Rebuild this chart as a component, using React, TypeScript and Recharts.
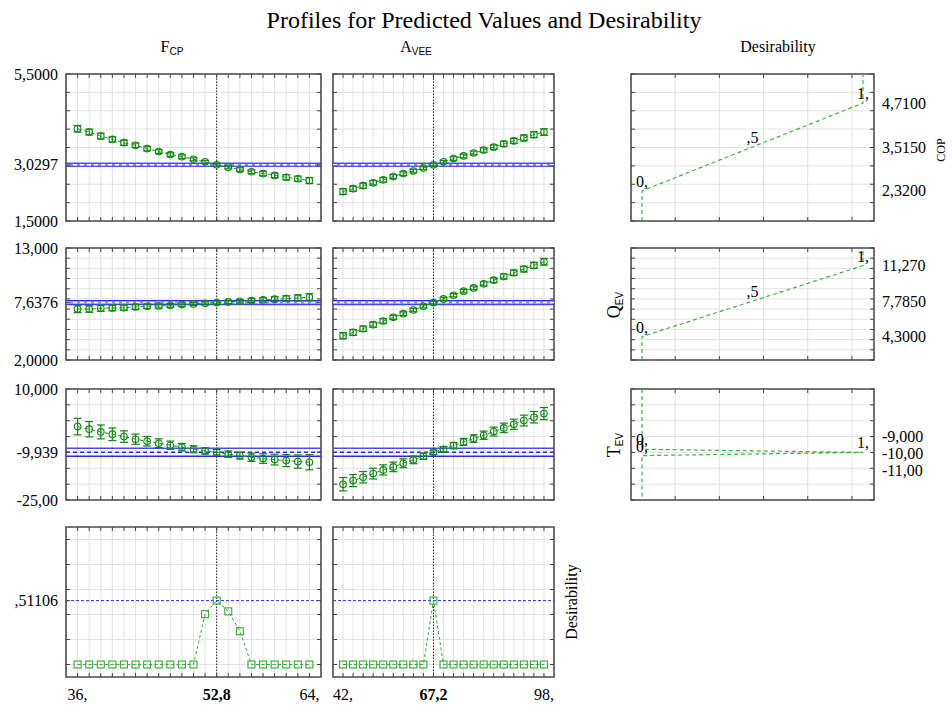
import React from 'react';
import {
  ComposedChart,
  Line,
  XAxis,
  YAxis,
  CartesianGrid,
  ReferenceLine,
  ReferenceArea,
  ErrorBar,
  LabelList,
} from 'recharts';

const SERIF = '"Liberation Serif", "Times New Roman", serif';
const SANS = '"Liberation Sans", Arial, sans-serif';

// ---------- categories ----------
const fcpX = [36, 37.4, 38.8, 40.2, 41.6, 43, 44.4, 45.8, 47.2, 48.6, 50, 51.4, 52.8, 54.2, 55.6, 57, 58.4, 59.8, 61.2, 62.6, 64];
const aveeX = [42, 44.8, 47.6, 50.4, 53.2, 56, 58.8, 61.6, 64.4, 67.2, 70, 72.8, 75.6, 78.4, 81.2, 84, 86.8, 89.6, 92.4, 95.2, 98];
const fcpCurrent = 52.8;
const aveeCurrent = 67.2;

// ---------- predicted values ----------
const copByFcp = [4.01, 3.92, 3.81, 3.72, 3.63, 3.56, 3.47, 3.39, 3.31, 3.25, 3.18, 3.11, 3.0297, 2.96, 2.9, 2.84, 2.79, 2.74, 2.69, 2.65, 2.6];
const copErrFcp = [0.09, 0.08, 0.08, 0.07, 0.07, 0.06, 0.06, 0.05, 0.05, 0.05, 0.04, 0.04, 0.04, 0.04, 0.05, 0.05, 0.06, 0.06, 0.07, 0.07, 0.08];
const copByAvee = [2.3, 2.38, 2.46, 2.54, 2.62, 2.71, 2.79, 2.86, 2.94, 3.0297, 3.11, 3.2, 3.27, 3.35, 3.43, 3.51, 3.6, 3.68, 3.76, 3.85, 3.92];
const copErrAvee = [0.08, 0.07, 0.07, 0.06, 0.06, 0.05, 0.05, 0.05, 0.04, 0.04, 0.04, 0.05, 0.05, 0.05, 0.06, 0.06, 0.07, 0.07, 0.08, 0.08, 0.09];

const qevByFcp = [7.01, 7.01, 7.08, 7.11, 7.14, 7.21, 7.28, 7.31, 7.37, 7.44, 7.51, 7.57, 7.6376, 7.7, 7.77, 7.84, 7.9, 7.97, 8.03, 8.1, 8.16];
const qevErrFcp = [0.36, 0.33, 0.3, 0.28, 0.26, 0.24, 0.22, 0.2, 0.18, 0.17, 0.16, 0.15, 0.15, 0.16, 0.17, 0.19, 0.21, 0.24, 0.27, 0.31, 0.36];
const qevByAvee = [4.38, 4.71, 5.07, 5.47, 5.83, 6.19, 6.55, 6.91, 7.28, 7.6376, 8.0, 8.36, 8.76, 9.08, 9.48, 9.84, 10.2, 10.57, 10.93, 11.29, 11.65];
const qevErrAvee = [0.3, 0.28, 0.26, 0.24, 0.22, 0.2, 0.18, 0.17, 0.16, 0.15, 0.15, 0.16, 0.17, 0.18, 0.2, 0.22, 0.24, 0.26, 0.28, 0.3, 0.33];

const tevByFcp = [-1.84, -2.68, -3.53, -4.26, -5.0, -5.84, -6.47, -7.1, -7.73, -8.36, -8.99, -9.52, -9.939, -10.57, -10.99, -11.52, -11.94, -12.25, -12.57, -12.88, -13.09];
const tevErrFcp = [2.6, 2.4, 2.2, 2.0, 1.8, 1.6, 1.5, 1.4, 1.3, 1.2, 1.1, 1.0, 0.9, 1.0, 1.1, 1.3, 1.5, 1.7, 1.9, 2.1, 2.4];
const tevByAvee = [-20.03, -18.88, -17.83, -16.67, -15.51, -14.57, -13.41, -12.36, -11.2, -9.939, -8.99, -7.84, -6.68, -5.63, -4.58, -3.42, -2.26, -1.11, 0.05, 1.1, 2.26];
const tevErrAvee = [2.1, 1.9, 1.8, 1.7, 1.6, 1.5, 1.4, 1.2, 1.0, 0.7, 0.8, 1.0, 1.1, 1.2, 1.3, 1.4, 1.5, 1.6, 1.7, 1.8, 1.9];

const desByFcp = [0, 0, 0, 0, 0, 0, 0, 0, 0, 0, 0, 0.403, 0.51106, 0.425, 0.266, 0, 0, 0, 0, 0, 0];
const desByAvee = [0, 0, 0, 0, 0, 0, 0, 0, 0, 0.51106, 0, 0, 0, 0, 0, 0, 0, 0, 0, 0, 0];

// current predicted values and confidence bands
const copCurrent = 3.0297;
const copBand = [2.99, 3.075];
const qevCurrent = 7.6376;
const qevBand = [7.43, 7.84];
const tevCurrent = -9.939;
const tevBand = [-11.2, -8.68];
const desCurrent = 0.51106;

// ---------- desirability functions ----------
const copDesD = [0, 0.5, 1];
const copDesV = [2.32, 3.515, 4.71];
const copDesLab = ['0,', ',5', '1,'];
const copDesEnds = [1.5, 5.5];
const qevDesD = [0, 0.5, 1];
const qevDesV = [4.3, 7.785, 11.27];
const qevDesLab = ['0,', ',5', '1,'];
const qevDesEnds = [2, 13];
const tevDesD = [0, 1, 0];
const tevDesV = [-9, -10, -11];
const tevDesLab = ['0,', '1,', '0,'];
const tevDesEnds = [10, -25];

// ---------- tick values / labels ----------
const fcpGrid = fcpX;
const aveeGrid = aveeX;
const desXGrid = [0.15, 0.35, 0.55, 0.75, 0.95];
const copGrid = [1.5, 2, 2.5, 3, 3.5, 4, 4.5, 5, 5.5];
const qevGrid = [2, 3, 4, 5, 6, 7, 8, 9, 10, 11, 12, 13];
const tevGrid = [-25, -20, -15, -10, -5, 0, 5, 10];
const desGrid = [0, 0.2, 0.4, 0.6, 0.8, 1.0];

type Lab = { v: number; t: string; bold?: boolean; dy?: number };
const fcpLabels: Lab[] = [{ v: 36, t: '36,' }, { v: 52.8, t: '52,8', bold: true }, { v: 64, t: '64,' }];
const aveeLabels: Lab[] = [{ v: 42, t: '42,' }, { v: 67.2, t: '67,2', bold: true }, { v: 98, t: '98,' }];
const copLabels: Lab[] = [{ v: 5.5, t: '5,5000' }, { v: 3.0297, t: '3,0297' }, { v: 1.5, t: '1,5000' }];
const qevLabels: Lab[] = [{ v: 13, t: '13,000' }, { v: 7.6376, t: '7,6376' }, { v: 2, t: '2,0000' }];
const tevLabels: Lab[] = [{ v: 10, t: '10,000' }, { v: -9.939, t: '-9,939' }, { v: -25, t: '-25,00' }];
const desLabels: Lab[] = [{ v: 0.51106, t: ',51106' }];
const copRight: Lab[] = [{ v: 4.71, t: '4,7100' }, { v: 3.515, t: '3,5150' }, { v: 2.32, t: '2,3200' }];
const qevRight: Lab[] = [{ v: 11.27, t: '11,270' }, { v: 7.785, t: '7,7850' }, { v: 4.3, t: '4,3000' }];
const tevRight: Lab[] = [{ v: -9, t: '-9,000', dy: -12.5 }, { v: -10, t: '-10,00', dy: 1 }, { v: -11, t: '-11,00', dy: 14.5 }];

// ---------- styles ----------
const GRID = '#e2e2e2';
const FRAME = '#4a4a4a';
const TICK = '#444';
const GREEN = '#0e8a0e';
const LINE_GREEN = '#1c9a1c';
const SQ_GREEN = '#35a835';
const DES_GREEN = '#38b438';
const BLUE = '#2626ff';

const findLab = (labs: Lab[] | undefined, v: number) =>
  labs ? labs.find((l) => Math.abs(l.v - v) < 1e-6) : undefined;

const makeXTick = (ph: number, labels?: Lab[]) => (props: any) => {
  const { x, y, payload } = props;
  const lab = findLab(labels, payload.value);
  return (
    <g>
      <line x1={x} x2={x} y1={y} y2={y - 4} stroke={TICK} strokeWidth={1} />
      <line x1={x} x2={x} y1={y - ph} y2={y - ph + 4} stroke={TICK} strokeWidth={1} />
      {lab ? (
        <text x={x} y={y + 23} textAnchor="middle" fontFamily={SERIF} fontSize={16} fontWeight={lab.bold ? 'bold' : 'normal'} fill="#000">
          {lab.t}
        </text>
      ) : null}
    </g>
  );
};

const makeYTick = (pw: number, labels?: Lab[]) => (props: any) => {
  const { x, y, payload } = props;
  const lab = findLab(labels, payload.value);
  return (
    <g>
      <line x1={x} x2={x + 4} y1={y} y2={y} stroke={TICK} strokeWidth={1} />
      <line x1={x + pw} x2={x + pw - 4} y1={y} y2={y} stroke={TICK} strokeWidth={1} />
      {lab ? (
        <text x={x - 8} y={y} dy="0.35em" textAnchor="end" fontFamily={SERIF} fontSize={16} fill="#000">
          {lab.t}
        </text>
      ) : null}
    </g>
  );
};

const makeRightTick = (labels: Lab[]) => (props: any) => {
  const { x, y, payload } = props;
  const lab = findLab(labels, payload.value);
  if (!lab) return <g />;
  return (
    <text x={x + 8} y={y + (lab.dy || 0)} dy="0.35em" textAnchor="start" fontFamily={SERIF} fontSize={16} fill="#000">
      {lab.t}
    </text>
  );
};

const circleDot = (p: any) => (
  <circle key={'c' + p.index} cx={p.cx} cy={p.cy} r={3.3} stroke={GREEN} strokeWidth={1.1} fill="none" />
);
const squareDot = (p: any) => (
  <rect key={'s' + p.index} x={p.cx - 3.5} y={p.cy - 3.5} width={7} height={7} stroke={SQ_GREEN} strokeWidth={1.1} fill="none" />
);

interface PanelProps {
  left: number;
  top: number;
  pw: number;
  ph: number;
  L: number;
  R: number;
  T: number;
  B: number;
  xDomain: [number, number];
  xTicks: number[];
  xLabels?: Lab[];
  yDomain: [number, number];
  yTicks: number[];
  yLabels?: Lab[];
  rightLabels?: Lab[];
  data: any[];
  kind: 'circle' | 'square' | 'desir';
  band?: { lo: number; hi: number; c: number; filled: boolean };
  hLine?: number;
  vLine?: number;
}

function Panel(p: PanelProps) {
  const width = p.L + p.pw + p.R;
  const height = p.T + p.ph + p.B;
  const yTickList = p.yLabels ? Array.from(new Set([...p.yTicks, ...p.yLabels.map((l) => l.v)])) : p.yTicks;
  return (
    <div style={{ position: 'absolute', left: p.left - p.L, top: p.top - p.T, width, height }}>
      <ComposedChart
        width={width}
        height={height}
        data={p.data}
        margin={{ top: p.T, right: p.rightLabels ? 0 : p.R, bottom: 0, left: 0 }}
      >
        <CartesianGrid stroke={GRID} strokeWidth={1} horizontalValues={p.yTicks} verticalValues={p.xTicks} />
        <XAxis
          dataKey="x"
          type="number"
          domain={p.xDomain}
          ticks={p.xTicks}
          interval={0}
          allowDataOverflow
          height={p.B}
          axisLine={false}
          tickLine={false}
          tickSize={0}
          tickMargin={0}
          tick={makeXTick(p.ph, p.xLabels)}
        />
        <YAxis
          type="number"
          domain={p.yDomain}
          ticks={yTickList}
          interval={0}
          allowDataOverflow
          width={p.L}
          axisLine={false}
          tickLine={false}
          tickSize={0}
          tickMargin={0}
          tick={makeYTick(p.pw, p.yLabels)}
        />
        {p.rightLabels ? (
          <YAxis
            yAxisId="r"
            orientation="right"
            type="number"
            domain={p.yDomain}
            ticks={p.rightLabels.map((l) => l.v)}
            interval={0}
            allowDataOverflow
            width={p.R}
            axisLine={false}
            tickLine={false}
            tickSize={0}
            tickMargin={0}
            tick={makeRightTick(p.rightLabels)}
          />
        ) : null}
        {p.band && p.band.filled ? (
          <ReferenceArea y1={p.band.lo} y2={p.band.hi} fill="#8c8cff" fillOpacity={1} stroke={BLUE} strokeWidth={1} />
        ) : null}
        {p.band && p.band.filled ? (
          <ReferenceLine y={p.band.c} stroke="#ffffff" strokeWidth={1.5} strokeDasharray="4 3" />
        ) : null}
        {p.band && !p.band.filled ? <ReferenceLine y={p.band.hi} stroke="#4a4aff" strokeWidth={1.3} /> : null}
        {p.band && !p.band.filled ? <ReferenceLine y={p.band.lo} stroke={BLUE} strokeWidth={1.5} /> : null}
        {p.band && !p.band.filled ? (
          <ReferenceLine y={p.band.c} stroke={BLUE} strokeWidth={1.3} strokeDasharray="4 3" />
        ) : null}
        {p.hLine !== undefined ? (
          <ReferenceLine y={p.hLine} stroke={BLUE} strokeWidth={1} strokeDasharray="3 2" />
        ) : null}
        {p.vLine !== undefined ? (
          <ReferenceLine x={p.vLine} stroke="#222" strokeWidth={1} strokeDasharray="1.5 1.5" />
        ) : null}
        {p.kind === 'circle' ? (
          <Line
            dataKey="y"
            type="linear"
            stroke={LINE_GREEN}
            strokeWidth={1}
            strokeDasharray="4 3"
            dot={circleDot}
            activeDot={false}
            isAnimationActive={false}
          >
            <ErrorBar dataKey="e" width={4} stroke={GREEN} strokeWidth={1.2} direction="y" />
          </Line>
        ) : null}
        {p.kind === 'square' ? (
          <Line
            dataKey="y"
            type="linear"
            stroke={SQ_GREEN}
            strokeWidth={1}
            strokeDasharray="3 2.5"
            dot={squareDot}
            activeDot={false}
            isAnimationActive={false}
          />
        ) : null}
        {p.kind === 'desir' ? (
          <Line
            dataKey="y"
            type="linear"
            stroke={DES_GREEN}
            strokeWidth={1.2}
            strokeDasharray="4 3"
            dot={false}
            activeDot={false}
            isAnimationActive={false}
          >
            <LabelList dataKey="lab" position="top" offset={4} fill="#000" fontSize={16} fontFamily={SERIF} />
          </Line>
        ) : null}
        <ReferenceArea
          x1={p.xDomain[0]}
          x2={p.xDomain[1]}
          y1={p.yDomain[0]}
          y2={p.yDomain[1]}
          fill="none"
          fillOpacity={0}
          stroke={FRAME}
          strokeWidth={1.6}
        />
      </ComposedChart>
    </div>
  );
}

const build = (xs: number[], ys: number[], es?: number[]) =>
  xs.map((x, i) => ({ x, y: ys[i], e: es ? es[i] : 0 }));

const buildDes = (ds: number[], vs: number[], labs: string[], ends: number[]) => [
  { x: ds[0], y: ends[0], lab: '' },
  ...ds.map((d, i) => ({ x: d, y: vs[i], lab: labs[i] })),
  { x: ds[ds.length - 1], y: ends[1], lab: '' },
];

// layout
const COLS = [
  { left: 66, pw: 255 },
  { left: 333, pw: 221 },
  { left: 631, pw: 243 },
];
const ROWS = [
  { top: 74, ph: 147 },
  { top: 248, ph: 112 },
  { top: 389, ph: 111 },
  { top: 527, ph: 150 },
];

export default function App() {
  const fcpDom: [number, number] = [34.6, 65.4];
  const aveeDom: [number, number] = [39.2, 100.8];
  const desDom: [number, number] = [-0.05, 1.05];
  const yDoms: [number, number][] = [
    [1.5, 5.5],
    [2, 13],
    [-25, 10],
    [-0.1, 1.1],
  ];
  const yGrids = [copGrid, qevGrid, tevGrid, desGrid];
  const yLabs = [copLabels, qevLabels, tevLabels, desLabels];
  const bands = [
    { lo: copBand[0], hi: copBand[1], c: copCurrent, filled: true },
    { lo: qevBand[0], hi: qevBand[1], c: qevCurrent, filled: true },
    { lo: tevBand[0], hi: tevBand[1], c: tevCurrent, filled: false },
  ];
  const fcpSeries = [
    build(fcpX, copByFcp, copErrFcp),
    build(fcpX, qevByFcp, qevErrFcp),
    build(fcpX, tevByFcp, tevErrFcp),
    build(fcpX, desByFcp),
  ];
  const aveeSeries = [
    build(aveeX, copByAvee, copErrAvee),
    build(aveeX, qevByAvee, qevErrAvee),
    build(aveeX, tevByAvee, tevErrAvee),
    build(aveeX, desByAvee),
  ];
  const desSeries = [
    buildDes(copDesD, copDesV, copDesLab, copDesEnds),
    buildDes(qevDesD, qevDesV, qevDesLab, qevDesEnds),
    buildDes(tevDesD, tevDesV, tevDesLab, tevDesEnds),
  ];
  const rightLabs = [copRight, qevRight, tevRight];

  const panels: React.ReactNode[] = [];
  ROWS.forEach((r, ri) => {
    const last = ri === 3;
    panels.push(
      <Panel
        key={'a' + ri}
        left={COLS[0].left}
        top={r.top}
        pw={COLS[0].pw}
        ph={r.ph}
        L={66}
        R={6}
        T={8}
        B={last ? 32 : 8}
        xDomain={fcpDom}
        xTicks={fcpGrid}
        xLabels={last ? fcpLabels : undefined}
        yDomain={yDoms[ri]}
        yTicks={yGrids[ri]}
        yLabels={yLabs[ri]}
        data={fcpSeries[ri]}
        kind={last ? 'square' : 'circle'}
        band={last ? undefined : bands[ri]}
        hLine={last ? desCurrent : undefined}
        vLine={fcpCurrent}
      />
    );
    panels.push(
      <Panel
        key={'b' + ri}
        left={COLS[1].left}
        top={r.top}
        pw={COLS[1].pw}
        ph={r.ph}
        L={6}
        R={6}
        T={8}
        B={last ? 32 : 8}
        xDomain={aveeDom}
        xTicks={aveeGrid}
        xLabels={last ? aveeLabels : undefined}
        yDomain={yDoms[ri]}
        yTicks={yGrids[ri]}
        data={aveeSeries[ri]}
        kind={last ? 'square' : 'circle'}
        band={last ? undefined : bands[ri]}
        hLine={last ? desCurrent : undefined}
        vLine={aveeCurrent}
      />
    );
    if (!last) {
      panels.push(
        <Panel
          key={'c' + ri}
          left={COLS[2].left}
          top={r.top}
          pw={COLS[2].pw}
          ph={r.ph}
          L={6}
          R={78}
          T={8}
          B={8}
          xDomain={desDom}
          xTicks={desXGrid}
          yDomain={yDoms[ri]}
          yTicks={yGrids[ri]}
          rightLabels={rightLabs[ri]}
          data={desSeries[ri]}
          kind="desir"
        />
      );
    }
  });

  return (
    <div
      style={{
        position: 'absolute',
        left: 0,
        top: 0,
        width: 952,
        height: 705,
        background: '#fff',
        overflow: 'hidden',
        fontFamily: SERIF,
      }}
    >
      <svg width={952} height={705} style={{ position: 'absolute', left: 0, top: 0 }}>
        <text x={484} y={28} textAnchor="middle" fontFamily={SERIF} fontSize={24} fill="#000">
          Profiles for Predicted Values and Desirability
        </text>
        <text x={172} y={52} textAnchor="middle" fontFamily={SERIF} fontSize={16} fill="#000">
          F
          <tspan fontFamily={SANS} fontSize={10} dy={3}>
            CP
          </tspan>
        </text>
        <text x={416} y={52} textAnchor="middle" fontFamily={SERIF} fontSize={16} fill="#000">
          A
          <tspan fontFamily={SANS} fontSize={10} dy={3}>
            VEE
          </tspan>
        </text>
        <text x={778} y={52} textAnchor="middle" fontFamily={SERIF} fontSize={16} fill="#000">
          Desirability
        </text>
        <text x={941} y={150} transform="rotate(-90 941 150)" textAnchor="middle" dy="0.35em" fontFamily={SERIF} fontSize={12} fill="#000">
          COP
        </text>
        <text x={614} y={305} transform="rotate(-90 614 305)" textAnchor="middle" dy="0.35em" fontFamily={SERIF} fontSize={18} fill="#000">
          Q
          <tspan fontFamily={SANS} fontSize={10} dy={3}>
            EV
          </tspan>
        </text>
        <text x={614} y={445} transform="rotate(-90 614 445)" textAnchor="middle" dy="0.35em" fontFamily={SERIF} fontSize={18} fill="#000">
          T
          <tspan fontFamily={SANS} fontSize={10} dy={3}>
            EV
          </tspan>
        </text>
        <text x={571} y={602} transform="rotate(-90 571 602)" textAnchor="middle" dy="0.35em" fontFamily={SERIF} fontSize={16} fill="#000">
          Desirability
        </text>
      </svg>
      {panels}
    </div>
  );
}
